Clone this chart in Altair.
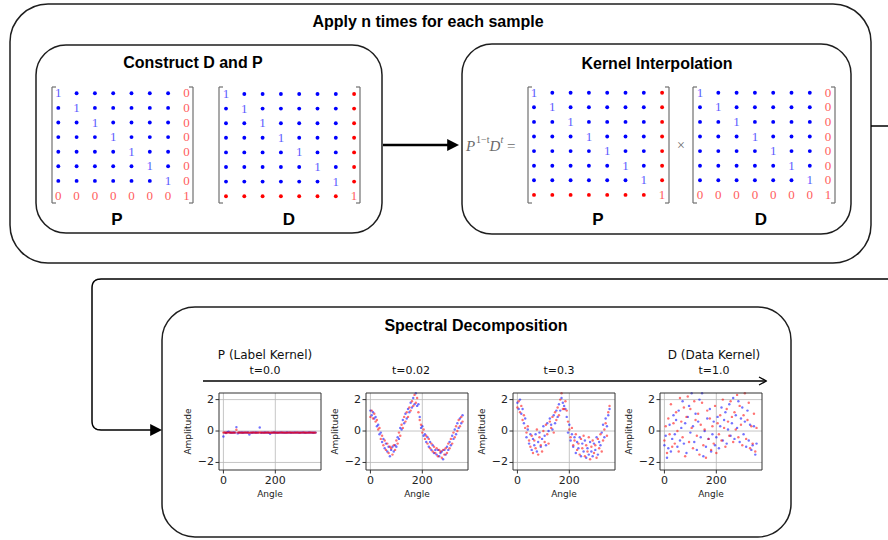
import math
import altair as alt
import pandas as pd

# ---------------- data ----------------
ANGLES = [0, 5, 10, 15, 20, 25, 30, 35, 40, 45, 50, 55,
          60, 65, 70, 75, 80, 85, 90, 95, 100, 105, 110, 115,
          120, 125, 130, 135, 140, 145, 150, 155, 160, 165, 170, 175,
          180, 185, 190, 195, 200, 205, 210, 215, 220, 225, 230, 235,
          240, 245, 250, 255, 260, 265, 270, 275, 280, 285, 290, 295,
          300, 305, 310, 315, 320, 325, 330, 335, 340, 345, 350, 355]

P1_RED = [-0.10, -0.09, -0.11, -0.10, -0.10, -0.09, -0.10, -0.11, -0.10, -0.10, 0.08, -0.10,
          -0.09, -0.10, -0.11, -0.10, -0.10, -0.09, -0.10, -0.10, -0.11, -0.10, -0.10, -0.09,
          -0.10, -0.11, -0.10, -0.10, -0.09, -0.10, -0.10, -0.11, -0.10, -0.10, -0.09, -0.10,
          -0.10, -0.11, -0.10, -0.09, -0.10, -0.10, -0.11, -0.10, -0.10, -0.09, -0.10, -0.10,
          -0.11, -0.10, -0.10, -0.09, -0.10, -0.10, -0.11, -0.10, -0.10, -0.09, -0.10, -0.11,
          -0.10, -0.10, -0.09, -0.10, -0.11, -0.10, -0.10, -0.09, -0.10, -0.10, -0.11, -0.10]
P1_BLUE = [-0.35, -0.10, -0.12, -0.08, -0.05, -0.10, -0.11, -0.10, -0.09, -0.10, 0.25, -0.15,
           -0.10, -0.10, -0.09, -0.11, -0.10, -0.10, -0.10, -0.09, -0.22, -0.10, -0.11, -0.10,
           -0.10, -0.09, -0.10, -0.10, 0.22, -0.11, -0.10, -0.10, -0.09, -0.10, -0.10, -0.11,
           -0.18, -0.10, -0.10, -0.09, -0.10, -0.11, -0.10, -0.10, -0.09, -0.10, -0.10, -0.11,
           -0.10, -0.09, -0.10, -0.10, -0.11, -0.10, -0.10, -0.09, -0.10, -0.10, -0.11, -0.10,
           -0.10, -0.09, -0.10, -0.11, -0.10, -0.10, -0.09, -0.10, -0.10, -0.11, -0.10, -0.10]

P2_RED = [0.9, 1.3, 0.8, 1.1, 0.6, 0.7, 0.1, 0.2, -0.5, -0.3, -0.9, -0.6,
          -1.2, -0.8, -1.4, -1.0, -1.1, -1.5, -0.9, -1.2, -0.6, -0.8, -0.1, -0.3,
          0.4, 0.2, 0.9, 0.6, 1.2, 0.9, 1.5, 1.3, 1.9, 1.6, 2.3, 1.8,
          2.1, 1.2, 0.7, 0.4, -0.1, 0.1, -0.5, -0.3, -0.8, -0.5, -1.1, -0.8,
          -1.3, -1.0, -1.4, -1.1, -1.6, -1.2, -1.3, -1.7, -1.2, -1.5, -1.1, -1.4,
          -0.8, -1.1, -0.5, -0.8, -0.1, -0.4, 0.3, 0.0, 0.7, 0.3, 0.9, 0.6]
P2_BLUE = [1.3, 1.0, 1.2, 0.8, 0.9, 0.3, 0.4, -0.2, -0.1, -0.7, -0.5, -1.1,
           -0.8, -1.3, -1.0, -1.6, -1.2, -1.0, -1.3, -0.9, -1.0, -0.4, -0.5, 0.2,
           0.1, 0.7, 0.5, 1.1, 0.8, 1.4, 1.2, 1.8, 1.5, 2.1, 1.7, 2.4,
           1.6, 1.7, 0.9, 0.2, 0.3, -0.3, -0.2, -0.7, -0.4, -1.0, -0.7, -1.2,
           -0.9, -1.4, -1.2, -1.5, -1.2, -1.6, -1.4, -1.3, -1.8, -1.2, -1.5, -1.0,
           -1.2, -0.7, -0.9, -0.3, -0.5, 0.1, -0.2, 0.5, 0.2, 0.8, 0.5, 1.0]

P3_RED = [1.5, 1.9, 1.2, 1.6, 0.7, 1.0, 0.2, -0.1, 0.3, -0.6, -1.0, -0.3,
          -1.4, -0.6, -1.1, 0.1, -1.5, -0.4, -0.9, -1.3, 0.0, -0.7, 0.4, -0.2,
          -0.8, 0.6, 0.2, 0.9, -0.1, 1.2, 0.7, 1.5, 1.0, 2.0, 2.4, 1.4,
          1.4, 1.9, 1.3, 0.6, 0.1, -0.4, 0.2, -0.9, -0.6, -0.2, -1.2, -0.8,
          -1.5, -0.5, -1.1, -0.3, -1.6, -0.9, -1.3, -0.4, -1.8, -1.0, -0.6, -1.4,
          -0.9, -1.7, -0.5, -1.1, -0.2, -1.3, -0.6, 0.1, 0.5, -0.3, 1.2, 1.6]
P3_BLUE = [1.8, 1.4, 2.0, 1.1, 1.4, 0.5, 0.8, -0.4, 0.1, -0.8, -0.2, -1.2,
           -0.5, -0.9, -0.2, -1.3, -0.7, -0.1, -1.0, -0.5, 0.3, -0.3, -0.9, 0.5,
           0.0, 0.8, 0.4, 0.1, 1.0, 0.5, 1.3, 0.9, 1.7, 1.3, 2.1, 1.8,
           1.6, 1.4, 0.9, -0.1, 0.4, -0.6, -0.2, -1.0, -0.4, -1.4, -0.7, -1.1,
           -0.4, -1.6, -0.8, -1.3, -0.6, -1.7, -1.1, -1.5, -0.7, -1.3, -1.6, -0.8,
           -1.2, -0.4, -1.5, -0.7, -0.9, -0.1, 0.4, -0.4, 0.8, 0.3, 1.0, 1.4]

P4_RED = [-0.6, 0.3, -1.4, 0.8, -0.2, 1.7, -1.0, 0.5, -0.8, 1.2, 0.0, -1.3,
          2.1, 0.6, -0.4, 1.5, -1.6, 0.9, 2.2, -0.7, 1.4, 0.2, -1.1, 1.9,
          0.7, -0.3, 1.1, -1.5, 0.4, 1.8, -0.9, 0.1, -1.7, 1.3, -0.5, 0.8,
          -1.2, 0.3, -0.8, 1.6, -1.4, 0.5, -0.2, 1.0, -0.6, 2.0, 0.2, -1.0,
          1.4, 0.6, -0.3, 1.9, 0.9, -0.7, 1.2, 0.1, 2.3, -0.4, 1.6, 0.4,
          -0.9, 1.0, 2.4, -0.5, 0.7, 1.8, -1.1, 0.3, -0.8, 1.1, -1.3, 0.2]
P4_BLUE = [-0.9, -0.3, -1.7, -1.1, 0.4, -1.3, -0.5, 1.0, -0.2, 0.7, -1.0, 1.3,
           -0.6, 0.2, 1.9, -0.8, 0.5, -1.4, 0.9, 1.6, -0.1, 2.4, 0.3, -0.7,
           1.1, -1.2, 0.6, 2.0, -0.4, 2.4, -1.6, 0.0, -1.0, 0.8, -0.5, 1.4,
           -1.3, -0.2, 0.6, -0.9, -0.4, 0.9, -1.1, 0.3, 1.5, -0.6, 0.7, 1.2,
           -0.8, 0.1, 1.7, -0.3, 0.5, 2.1, -0.5, 1.0, 0.2, 1.9, -0.7, 0.8,
           1.5, -0.2, 0.6, -1.0, 1.3, -0.6, 0.4, -1.2, -0.9, 0.3, -1.5, -0.8]

PANEL_RED = [P1_RED, P2_RED, P3_RED, P4_RED]
PANEL_BLUE = [P1_BLUE, P2_BLUE, P3_BLUE, P4_BLUE]
KERNEL_NAMES = ["P (Label Kernel)", "", "", "D (Data Kernel)"]
T_VALUES = ["t=0.0", "t=0.02", "t=0.3", "t=1.0"]
X_TICKS = [0, 200]
Y_TICKS = [-2, 0, 2]

BOX_TITLES = ["Apply n times for each sample", "Construct D and P",
              "Kernel Interpolation", "Spectral Decomposition"]
MATRIX_NAMES = ["P", "D", "P", "D"]
# '1' blue one, '.' blue dot, 'o' red dot, '0' red zero, 'I' red one
MATRIX_A = ["1......0", ".1.....0", "..1....0", "...1...0",
            "....1..0", ".....1.0", "......10", "0000000I"]
MATRIX_B = ["1......o", ".1.....o", "..1....o", "...1...o",
            "....1..o", ".....1.o", "......1o", "oooooooI"]

# ---------------- layout / style ----------------
W, H = 888, 540
SANS = "Liberation Sans"
MPL = "DejaVu Sans"
SERIF = "Liberation Serif"
BLUE_TXT, RED_TXT = "#5c5cff", "#ff5c5c"
BLUE_DOT, RED_DOT = "#0000ff", "#ff0000"

SX = alt.Scale(domain=[0, W], range=[0, W], zero=False, nice=False)
SY = alt.Scale(domain=[0, H], range=[0, H], zero=False, nice=False)


def PX(f="x"):
    return alt.X(f"{f}:Q", scale=SX, axis=None)


def PY(f="y"):
    return alt.Y(f"{f}:Q", scale=SY, axis=None)


layers = []

# rounded boxes
BOXES = [(10, 4, 871, 263, 38), (36, 45, 382, 233, 30),
         (462, 44, 851, 234, 30), (162, 307, 791, 537, 33)]
for (bx, by, bx2, by2, r) in BOXES:
    df = pd.DataFrame({"x": [bx], "y": [by], "x2": [bx2], "y2": [by2]})
    layers.append(alt.Chart(df).mark_rect(cornerRadius=r, fill="white", fillOpacity=0,
                                          stroke="#1e1e1e", strokeWidth=1.5)
                  .encode(x=PX(), x2="x2:Q", y=PY(), y2="y2:Q"))

# box titles
TITLE_POS = [(428, 22), (193, 63), (657, 64), (476, 326)]
df_t = pd.DataFrame({"x": [p[0] for p in TITLE_POS], "y": [p[1] for p in TITLE_POS],
                     "t": BOX_TITLES})
layers.append(alt.Chart(df_t).mark_text(font=SANS, fontSize=16, fontWeight="bold",
                                        baseline="middle", align="center", color="black")
              .encode(x=PX(), y=PY(), text="t:N"))

# matrices
MATRICES = [  # pattern, first col x, first row y, bracket l, bracket r, top, bottom, label x
    (MATRIX_A, 58.3, 93.3, 52, 193, 87, 203, 117),
    (MATRIX_B, 226.0, 94.0, 219, 360, 87, 203, 289),
    (MATRIX_B, 534.0, 92.7, 528, 669, 87, 203, 598),
    (MATRIX_A, 700.0, 92.7, 693, 835, 87, 203, 761),
]
DX, DY = 18.3, 14.6
dots, digits, brackets = [], [], []
for (pat, cx, cy, bl, br, top, bot, lx) in MATRICES:
    for r, row in enumerate(pat):
        for c, ch in enumerate(row):
            x, y = cx + c * DX, cy + r * DY
            if ch == ".":
                dots.append({"x": x, "y": y, "c": BLUE_DOT})
            elif ch == "o":
                dots.append({"x": x, "y": y, "c": RED_DOT})
            elif ch == "1":
                digits.append({"x": x, "y": y, "t": "1", "c": BLUE_TXT})
            elif ch == "0":
                digits.append({"x": x, "y": y, "t": "0", "c": RED_TXT})
            elif ch == "I":
                digits.append({"x": x, "y": y, "t": "1", "c": RED_TXT})
    brackets += [
        {"x": bl, "y": top, "x2": bl, "y2": bot},
        {"x": bl, "y": top, "x2": bl + 4, "y2": top},
        {"x": bl, "y": bot, "x2": bl + 4, "y2": bot},
        {"x": br, "y": top, "x2": br, "y2": bot},
        {"x": br, "y": top, "x2": br - 4, "y2": top},
        {"x": br, "y": bot, "x2": br - 4, "y2": bot},
    ]

layers.append(alt.Chart(pd.DataFrame(brackets)).mark_rule(color="#707070", strokeWidth=1.2)
              .encode(x=PX(), y=PY(), x2="x2:Q", y2="y2:Q"))
layers.append(alt.Chart(pd.DataFrame(dots)).mark_circle(size=15, opacity=1)
              .encode(x=PX(), y=PY(), color=alt.Color("c:N", scale=None)))
layers.append(alt.Chart(pd.DataFrame(digits)).mark_text(font=SERIF, fontSize=13, baseline="middle")
              .encode(x=PX(), y=PY(), text="t:N", color=alt.Color("c:N", scale=None)))

df_names = pd.DataFrame({"x": [m[7] for m in MATRICES], "y": [220] * 4, "t": MATRIX_NAMES})
layers.append(alt.Chart(df_names).mark_text(font=SANS, fontSize=17, fontWeight="bold",
                                            baseline="middle", color="black")
              .encode(x=PX(), y=PY(), text="t:N"))

# formula P^{1-t} D^t =  and the times sign
FORMULA = [("P", 466, 146, 15, "italic"), ("1\u2212t", 476, 140, 10, "normal"),
           ("D", 489.5, 146, 15, "italic"), ("t", 500.5, 140, 10, "italic"),
           ("=", 507, 146, 15, "normal"), ("\u00d7", 677, 146, 14, "normal")]
for (t, x, y, fs, st) in FORMULA:
    layers.append(alt.Chart(pd.DataFrame({"x": [x], "y": [y], "t": [t]}))
                  .mark_text(font=SERIF, fontSize=fs, fontStyle=st, align="left",
                             baseline="middle", color="#6a6a6a")
                  .encode(x=PX(), y=PY(), text="t:N"))


# connectors
def rounded(points, r, n=8):
    out = [points[0]]
    for i in range(1, len(points) - 1):
        (x0, y0), (x1, y1), (x2, y2) = points[i - 1], points[i], points[i + 1]
        d1 = math.hypot(x1 - x0, y1 - y0)
        d2 = math.hypot(x2 - x1, y2 - y1)
        ax, ay = x1 - (x1 - x0) / d1 * r, y1 - (y1 - y0) / d1 * r
        bx, by = x1 + (x2 - x1) / d2 * r, y1 + (y2 - y1) / d2 * r
        for k in range(n + 1):
            s = k / n
            out.append(((1 - s) ** 2 * ax + 2 * (1 - s) * s * x1 + s ** 2 * bx,
                        (1 - s) ** 2 * ay + 2 * (1 - s) * s * y1 + s ** 2 * by))
    out.append(points[-1])
    return out


PATHS = [
    ([(383, 145), (450, 145)], 2.6),
    ([(871, 126), (890, 126)], 1.5),
    (rounded([(890, 279), (92, 279), (92, 430), (152, 430)], 9), 1.5),
    ([(203, 381), (766, 381)], 1.3),
    ([(759, 377), (766.5, 381), (759, 385)], 1.3),
]
rows = []
for s, (pts, w) in enumerate(PATHS):
    for k, (x, y) in enumerate(pts):
        rows.append({"seg": s, "ord": k, "x": x, "y": y, "w": w})
layers.append(alt.Chart(pd.DataFrame(rows)).mark_line(color="black", strokeJoin="round")
              .encode(x=PX(), y=PY(), detail="seg:N", order="ord:Q",
                      strokeWidth=alt.StrokeWidth("w:Q", scale=None)))

HEADS = pd.DataFrame({"x": [459, 162], "y": [145, 430]})
layers.append(alt.Chart(HEADS).mark_point(shape="M-1,-0.5L0,0L-1,0.5Z", filled=True, size=560,
                                          color="black", opacity=1)
              .encode(x=PX(), y=PY()))

diagram = alt.layer(*layers)

# ---------------- scatter panels ----------------
PANEL_X0 = [219, 366, 513, 660]
TITLE_DX = [-5, -6, -5, 3]
PANEL_W = 102
PANEL_TOP, PANEL_BOT = 393, 470
XDOM = [-17, 376]
YDOM = [-2.48, 2.42]
PPA = PANEL_W / (XDOM[1] - XDOM[0])          # px per degree
PPV = (PANEL_BOT - PANEL_TOP) / (YDOM[1] - YDOM[0])  # px per amplitude unit


def panel(i):
    x0 = PANEL_X0[i]
    sx = alt.Scale(domain=XDOM, range=[x0, x0 + PANEL_W], zero=False, nice=False)
    sy = alt.Scale(domain=YDOM, range=[PANEL_BOT, PANEL_TOP], zero=False, nice=False)

    def AX(f="a"):
        return alt.X(f"{f}:Q", scale=sx, axis=None)

    def AY(f="v"):
        return alt.Y(f"{f}:Q", scale=sy, axis=None)

    grid = ([{"a": t, "a2": t, "v": YDOM[0], "v2": YDOM[1]} for t in X_TICKS] +
            [{"a": XDOM[0], "a2": XDOM[1], "v": t, "v2": t} for t in Y_TICKS])
    ticks = ([{"a": t, "a2": t, "v": YDOM[0], "v2": YDOM[0] - 3.5 / PPV} for t in X_TICKS] +
             [{"a": XDOM[0], "a2": XDOM[0] - 3.5 / PPA, "v": t, "v2": t} for t in Y_TICKS])
    pts = pd.DataFrame({"a": ANGLES + ANGLES, "v": PANEL_BLUE[i] + PANEL_RED[i],
                        "c": [BLUE_DOT] * len(ANGLES) + [RED_DOT] * len(ANGLES)})
    frame = pd.DataFrame({"a": [XDOM[0]], "a2": [XDOM[1]], "v": [YDOM[0]], "v2": [YDOM[1]]})
    xlab = pd.DataFrame({"a": X_TICKS, "v": [YDOM[0] - 11 / PPV] * len(X_TICKS),
                         "t": [str(t) for t in X_TICKS]})
    ylab = pd.DataFrame({"a": [XDOM[0] - 5 / PPA] * len(Y_TICKS), "v": Y_TICKS,
                         "t": [str(t).replace("-", "\u2212") for t in Y_TICKS]})
    mid_a = (XDOM[0] + XDOM[1]) / 2
    mid_v = (YDOM[0] + YDOM[1]) / 2
    alab = pd.DataFrame({"a": [mid_a], "v": [YDOM[0] - 24 / PPV], "t": ["Angle"]})
    amp = pd.DataFrame({"a": [XDOM[0] - 31 / PPA], "v": [mid_v], "t": ["Amplitude"]})
    ta = mid_a + TITLE_DX[i] / PPA
    ttl = pd.DataFrame({"a": [ta, ta],
                        "v": [YDOM[1] + (PANEL_TOP - 355) / PPV, YDOM[1] + (PANEL_TOP - 370.5) / PPV],
                        "t": [KERNEL_NAMES[i], T_VALUES[i]], "fs": [12, 11]})

    return alt.layer(
        alt.Chart(pd.DataFrame(grid)).mark_rule(color="#b8b8b8", strokeWidth=0.8)
        .encode(x=AX(), x2="a2:Q", y=AY(), y2="v2:Q"),
        alt.Chart(pts).mark_circle(size=6, opacity=0.55)
        .encode(x=AX(), y=AY(), color=alt.Color("c:N", scale=None)),
        alt.Chart(frame).mark_rect(fillOpacity=0, stroke="#333333", strokeWidth=1)
        .encode(x=AX(), x2="a2:Q", y=AY(), y2="v2:Q"),
        alt.Chart(pd.DataFrame(ticks)).mark_rule(color="#333333", strokeWidth=1)
        .encode(x=AX(), x2="a2:Q", y=AY(), y2="v2:Q"),
        alt.Chart(xlab).mark_text(font=MPL, fontSize=11, baseline="middle", color="#222")
        .encode(x=AX(), y=AY(), text="t:N"),
        alt.Chart(ylab).mark_text(font=MPL, fontSize=11, baseline="middle", align="right", color="#222")
        .encode(x=AX(), y=AY(), text="t:N"),
        alt.Chart(alab).mark_text(font=MPL, fontSize=9, baseline="middle", color="#222")
        .encode(x=AX(), y=AY(), text="t:N"),
        alt.Chart(amp).mark_text(font=MPL, fontSize=9, baseline="middle", angle=270, color="#222")
        .encode(x=AX(), y=AY(), text="t:N"),
        alt.Chart(ttl).mark_text(font=MPL, baseline="middle", color="#111")
        .encode(x=AX(), y=AY(), text="t:N", size=alt.Size("fs:Q", scale=None)),
    )


chart = alt.layer(diagram, *[panel(i) for i in range(4)]).resolve_scale(
    x="independent", y="independent"
).properties(
    width=W, height=H, padding=0,
    autosize=alt.AutoSizeParams(type="none"),
    background="white",
).configure_view(stroke=None)

chart.save("out.html", embed_options={"renderer": "svg", "actions": False})
